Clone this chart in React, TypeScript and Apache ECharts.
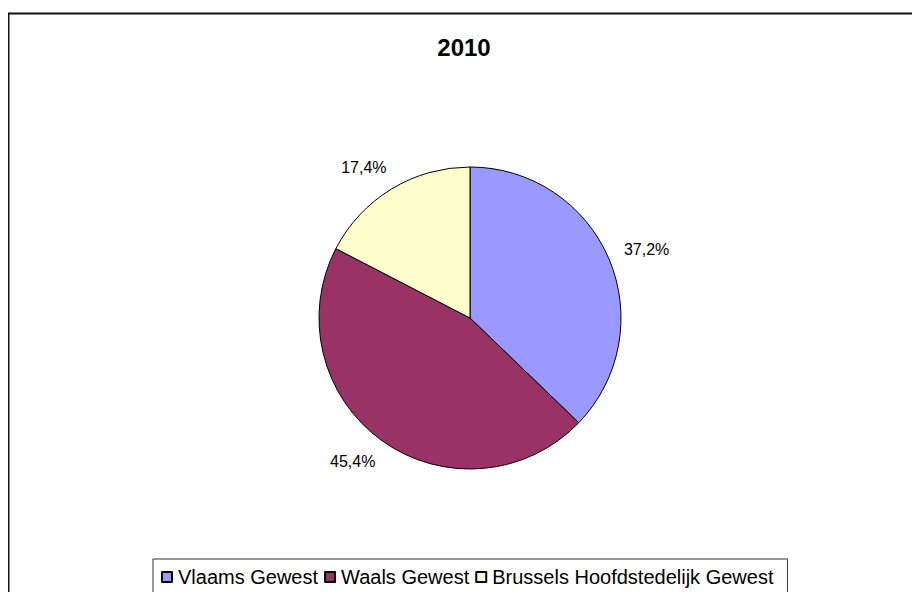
import React, { useEffect, useRef } from "react";
import * as echarts from "echarts";

const title = "2010";
const categories = ["Vlaams Gewest", "Waals Gewest", "Brussels Hoofdstedelijk Gewest"];
const values = [37.2, 45.4, 17.4];
const colors = ["#9999FF", "#993366", "#FFFFCC"];

export default function App() {
  const ref = useRef<HTMLDivElement>(null);
  useEffect(() => {
    if (!ref.current) return;
    const chart = echarts.init(ref.current, undefined, { renderer: "svg" });
    chart.setOption({
      animation: false,
      backgroundColor: "#ffffff",
      title: {
        text: title,
        left: "center",
        top: 27,
        padding: 0,
        textStyle: { fontFamily: "Arial, Liberation Sans", fontSize: 24, fontWeight: "bold", color: "#000" },
      },
      graphic: [
        {
          type: "rect",
          shape: { x: 0.5, y: 5.5, width: 1200, height: 1200 },
          style: { fill: "none", stroke: "#111", lineWidth: 2 },
          silent: true,
          z: 100,
        },
      ],
      legend: {
        top: 551,
        left: 145,
        orient: "horizontal",
        itemWidth: 10,
        itemHeight: 10,
        itemGap: 6,
        borderColor: "#333",
        borderWidth: 1,
        borderRadius: 0,
        padding: [8, 14, 20, 8],
        icon: "rect",
        textStyle: { fontFamily: "Arial, Liberation Sans", fontSize: 20, color: "#000", padding: [0, 0, 0, 1] },
        data: categories,
      },
      series: [
        {
          type: "pie",
          center: [462, 310],
          radius: [0, 151],
          startAngle: 90,
          clockwise: true,
          data: categories.map((c, i) => ({ name: c, value: values[i], itemStyle: { color: colors[i] } })),
          itemStyle: { borderColor: "#000", borderWidth: 1 },
          label: {
            show: true,
            position: "outside",
            formatter: (p: any) => p.value.toFixed(1).replace(".", ",") + "%",
            fontFamily: "Arial, Liberation Sans",
            fontSize: 16,
            color: "#000",
            distanceToLabelLine: -8,
          },
          labelLine: { show: false, length: 25, length2: 0 },
          emphasis: { disabled: true },
        },
      ],
    });
    return () => chart.dispose();
  }, []);
  return <div ref={ref} style={{ width: 912, height: 584 }} />;
}
